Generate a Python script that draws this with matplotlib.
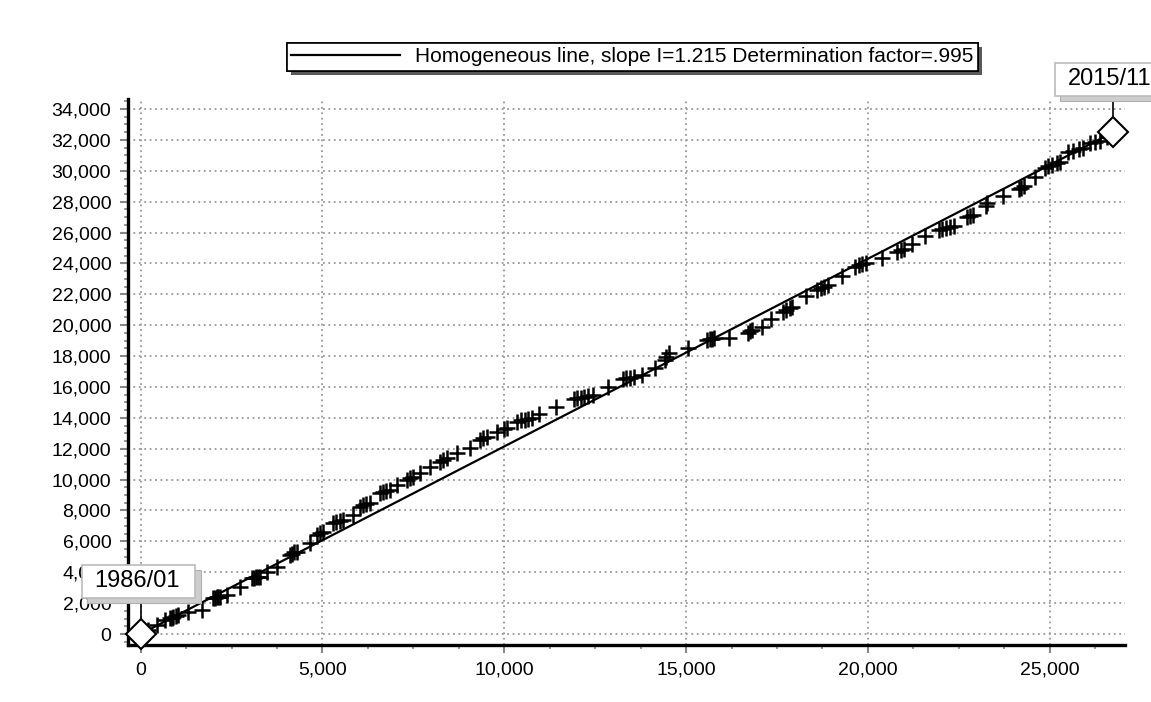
import numpy as np
import matplotlib
matplotlib.use('Agg')
import matplotlib.pyplot as plt
import matplotlib.ticker as mticker
import matplotlib.patheffects as pe
import matplotlib.transforms as mtransforms
from matplotlib.patches import Rectangle

plt.rcParams['font.family'] = ['Liberation Sans', 'DejaVu Sans']

# curva de dupla massa (valores acumulados)
acum_x = [0, 210, 439, 668, 806, 850, 897, 960, 1035, 1310, 1677,
          1997, 2040, 2090, 2140, 2181, 2365, 2731,
          3052, 3110, 3170, 3230, 3281, 3465, 3740,
          4106, 4160, 4230, 4290, 4656, 4840, 4930, 5022,
          5297, 5380, 5470, 5572, 5847, 6031, 6120, 6210, 6306,
          6581, 6670, 6760, 6856, 7040, 7315, 7400, 7497, 7681, 7956,
          8231, 8320, 8415, 8690, 9056, 9331, 9420, 9515, 9790,
          10000, 10065, 10340, 10450, 10560, 10650, 10753, 10962, 11433,
          11904, 12000, 12100, 12200, 12300, 12427, 12845,
          13264, 13350, 13450, 13578, 13787, 14153, 14414, 14460, 14519,
          15042, 15565, 15650, 15700, 15774, 16192,
          16715, 16760, 16820, 17081, 17343, 17657, 17750, 17850, 17918,
          18285, 18598, 18700, 18800, 18912, 19279,
          19644, 19750, 19850, 19958, 20377, 20796, 20900, 21004, 21213, 21579,
          21945, 22050, 22150, 22250, 22364, 22730, 22800, 22887, 23253, 23280,
          23724, 24142, 24220, 24299, 24600, 24874, 24950, 25050, 25188, 25290,
          25502, 25650, 25816, 25920, 26110, 26250, 26390, 26580, 26750]
acum_y = [0, 259, 583, 907, 1015, 1060, 1122, 1170, 1231, 1446, 1554,
          2310, 2350, 2390, 2410, 2418, 2526, 3065,
          3606, 3650, 3680, 3700, 3713, 4036, 4360,
          5117, 5200, 5280, 5331, 5873, 6412, 6520, 6626,
          7170, 7250, 7320, 7384, 7708, 8245, 8330, 8400, 8465,
          9113, 9200, 9270, 9327, 9651, 9975, 10080, 10188, 10408, 10836,
          11160, 11270, 11380, 11704, 12028, 12565, 12680, 12780, 13103,
          13250, 13323, 13750, 13830, 13890, 13950, 14000, 14275, 14708,
          15250, 15290, 15316, 15350, 15400, 15480, 15967,
          16500, 16550, 16600, 16650, 16769, 17203, 17750, 17950, 18180,
          18504, 19050, 19100, 19130, 19150, 19155,
          19500, 19600, 19700, 19914, 20391, 20850, 21000, 21100, 21200,
          21866, 22300, 22420, 22500, 22600, 23211,
          23800, 23880, 23960, 24050, 24361, 24750, 24860, 24950, 25228, 25770,
          26150, 26250, 26320, 26380, 26450, 27000, 27072, 27150, 27700, 27900,
          28373, 28800, 28900, 29000, 29620, 30200, 30300, 30380, 30500, 30600,
          31200, 31300, 31400, 31500, 31800, 31870, 31950, 32210, 32530]

inclinacao = 1.215
det = .995
data_ini = '1986/01'
data_fim = '2015/11'

fig = plt.figure(figsize=(11.51, 7.02), dpi=100)
ax = fig.add_axes([0.1112, 0.0812, 0.8662, 0.7778])

linha_x = np.array([0, acum_x[-1]])
ax.plot(linha_x, inclinacao*linha_x, color='black', lw=1.6, zorder=3,
        label='Homogeneous line, slope I=%.3f Determination factor=%s' % (inclinacao, ('%.3f' % det)[1:]))
ax.plot(acum_x, acum_y, linestyle='none', marker='+', ms=12, mew=1.8, color='black', zorder=4)

ax.set_xlim(-349, 27070)
ax.set_ylim(-712, 34650)
ax.xaxis.set_major_locator(mticker.MultipleLocator(5000))
ax.xaxis.set_minor_locator(mticker.MultipleLocator(1250))
ax.yaxis.set_major_locator(mticker.MultipleLocator(2000))
ax.yaxis.set_minor_locator(mticker.MultipleLocator(500))
fmt = mticker.StrMethodFormatter('{x:,.0f}')
ax.xaxis.set_major_formatter(fmt)
ax.yaxis.set_major_formatter(fmt)
ax.tick_params(which='major', length=6, width=1.5, color='#888888', labelsize=14, pad=6)
ax.tick_params(which='minor', length=3, width=1.2, color='#888888')
ax.grid(True, which='major', color='#999999', linestyle=(0, (1, 2)), lw=1.3)

for s in ['top', 'right']:
    ax.spines[s].set_visible(False)
for s in ['left', 'bottom']:
    ax.spines[s].set_linewidth(2.4)
    ax.spines[s].set_color('black')

leg = ax.legend(loc='center', bbox_to_anchor=(0.5495, 0.919), bbox_transform=fig.transFigure,
                fancybox=False, edgecolor='black', framealpha=1, fontsize=15,
                handlelength=5.2, handletextpad=0.75, borderpad=0.22, borderaxespad=0)
leg.get_frame().set_linewidth(1.2)
leg.get_frame().set_path_effects([pe.withSimplePatchShadow(offset=(3, -3), shadow_rgbFace='0.35', alpha=1), pe.Normal()])

# caixas com as datas inicial e final, em pontos relativos ao ponto
for (px, py, txt) in [(acum_x[0], acum_y[0], data_ini), (acum_x[-1], acum_y[-1], data_fim)]:
    tr = mtransforms.Affine2D().scale(fig.dpi/72.) + mtransforms.ScaledTranslation(px, py, ax.transData)
    ax.plot([0, 0], [0, 26], color='black', lw=1.2, transform=tr, clip_on=False, zorder=8)
    sombra = Rectangle((-42.3 + 4, 26 - 4), 81.4, 23.8, transform=tr, fc='#cdcdcd', ec='#b0b0b0',
                       lw=0.8, clip_on=False, zorder=9)
    caixa = Rectangle((-42.3, 26), 81.4, 23.8, transform=tr, fc='white', ec='#bbbbbb',
                      lw=1.2, clip_on=False, zorder=10)
    ax.add_patch(sombra)
    ax.add_patch(caixa)
    ax.annotate(txt, xy=(px, py), xytext=(-2.6, 38), textcoords='offset points',
                ha='center', va='center', fontsize=17, zorder=11, annotation_clip=False)

ax.plot([acum_x[0], acum_x[-1]], [acum_y[0], acum_y[-1]], linestyle='none', marker='D', ms=15,
        mfc='white', mec='black', mew=1.5, zorder=12, clip_on=False)

plt.savefig('out.png', dpi=100)
